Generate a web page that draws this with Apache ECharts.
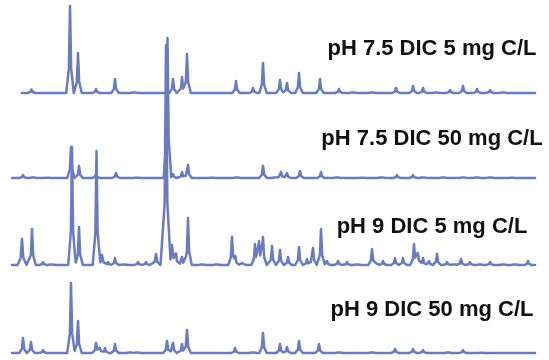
<!DOCTYPE html>
<html>
<head>
<meta charset="utf-8">
<title>XRD patterns</title>
<script src="https://cdn.jsdelivr.net/npm/echarts@6.0.0/dist/echarts.min.js"></script>
<style>
  html, body { margin: 0; padding: 0; background: #fff; }
  #chart { width: 549px; height: 360px; }
</style>
</head>
<body>
<div id="chart"></div>
<script>
// Sample names, top to bottom
const sampleLabels = [
  'pH 7.5 DIC 5 mg C/L',
  'pH 7.5 DIC 50 mg C/L',
  'pH 9 DIC 5 mg C/L',
  'pH 9 DIC 50 mg C/L'
];

// Scan range of each pattern (degrees 2θ)
const scanStart = [6.0, 5.0, 5.0, 5.0];
const scanEnd = [57.3, 57.3, 57.3, 57.3];

// Peak lists: [2θ, intensity (a.u.), optional half base width]
const peaksPH75DIC5 = [
  [6.95, 3.5], [10.8, 87], [11.6, 40], [13.4, 4], [15.3, 14], [17.2, 2],
  [21.1, 14], [22.0, 16], [22.5, 39], [27.4, 12], [29.1, 5], [30.1, 30],
  [31.8, 13], [32.5, 10], [33.7, 20], [35.8, 14], [37.7, 4], [39.1, 2],
  [41.0, 2], [43.4, 5], [45.1, 7], [46.1, 5], [47.4, 2], [48.8, 3],
  [50.1, 7], [51.5, 4], [52.8, 3], [54.1, 2]
];
const peaksPH75DIC50 = [
  [6.1, 3], [7.1, 1.5], [8.5, 1], [10.9, 31], [11.7, 12], [13.4, 4],
  [15.4, 5], [17.5, 1], [20.55, 140], [21.1, 4], [22.0, 6], [22.6, 13],
  [25.0, 1], [27.5, 2], [30.1, 12], [31.3, 2], [31.9, 6], [32.5, 5],
  [33.8, 7], [35.9, 6], [37.5, 2], [40.0, 1], [42.0, 1.5], [43.5, 3],
  [45.1, 3], [46.1, 2], [48.1, 2], [50.1, 2], [51.5, 2], [52.8, 1.5], [55.0, 1]
];
const peaksPH9DIC5 = [
  [6.0, 26, 0.45], [7.0, 36], [8.1, 3], [9.0, 1.5], [11.0, 118], [11.7, 38],
  [13.45, 114], [14.0, 10, 0.5], [14.6, 3], [15.3, 7], [16.2, 2], [17.6, 3],
  [18.4, 3], [19.4, 11, 0.45], [20.4, 220, 0.45], [21.0, 20, 0.5], [21.4, 10],
  [22.0, 8], [22.6, 47], [24.0, 2], [25.5, 2], [27.0, 28], [27.35, 8],
  [28.0, 2], [29.3, 21], [29.7, 24], [30.1, 28], [31.0, 19], [31.8, 15],
  [32.6, 8], [33.7, 18], [34.5, 6], [35.1, 17], [35.9, 36], [36.5, 4],
  [37.6, 4], [38.5, 3], [39.5, 2], [41.0, 16], [41.4, 4], [42.1, 4],
  [43.3, 7], [44.1, 7], [45.2, 21], [45.6, 14], [46.1, 7], [46.7, 4],
  [47.5, 11], [48.5, 3], [49.2, 2], [49.9, 6], [50.8, 3], [51.8, 2],
  [52.8, 3], [54.1, 2], [55.3, 2], [56.6, 4]
];
const peaksPH9DIC50 = [
  [6.1, 15], [6.9, 11], [8.1, 3], [10.9, 70], [11.6, 32], [13.4, 10],
  [13.8, 6], [14.3, 5], [15.3, 9], [16.8, 2], [17.5, 2], [20.5, 12],
  [21.1, 10], [22.0, 9], [22.5, 23], [27.3, 5], [29.1, 2], [30.1, 20],
  [31.8, 9], [32.5, 6], [33.7, 12], [35.7, 9], [37.7, 2], [41.0, 1.5],
  [43.3, 4], [45.1, 4], [46.1, 3], [48.6, 2], [50.1, 3], [52.0, 1]
];

const peakLists = [peaksPH75DIC5, peaksPH75DIC50, peaksPH9DIC5, peaksPH9DIC50];

// Vertical stacking offset of each pattern and default peak half width
const stackOffset = [267, 182, 95, 7];
const defaultHalfWidth = 0.38;
const lineColor = '#6b7bc0';

// Peak profile: sharp apex with broader foot (apex, shoulder, foot)
const shoulderPos = 0.3;   // fraction of half width
const shoulderLevel = 0.28; // fraction of peak height

function peakShape(d, w) {
  if (d >= w) return 0;
  const s = shoulderPos * w;
  if (d <= s) return 1 - (1 - shoulderLevel) * (d / s);
  return shoulderLevel * (1 - (d - s) / (w - s));
}

// Pattern evaluated at each peak's apex, shoulders and feet
function buildPattern(start, end, peaks, offset) {
  const xs = new Set([start, end]);
  peaks.forEach(([p, h, w = defaultHalfWidth]) => {
    const s = shoulderPos * w;
    [p - w, p - s, p, p + s, p + w].forEach(x => {
      if (x >= start && x <= end) xs.add(+x.toFixed(4));
    });
  });
  const sorted = Array.from(xs).sort((a, b) => a - b);
  return sorted.map(x => {
    let y = 0;
    peaks.forEach(([p, h, w = defaultHalfWidth]) => {
      y += h * peakShape(Math.abs(x - p), w);
    });
    return [x, offset + y];
  });
}

const chart = echarts.init(document.getElementById('chart'), null, { renderer: 'canvas' });

const series = peakLists.map((peaks, i) => ({
  name: sampleLabels[i],
  type: 'line',
  data: buildPattern(scanStart[i], scanEnd[i], peaks, stackOffset[i]),
  showSymbol: false,
  silent: true,
  lineStyle: { color: lineColor, width: 2.5, join: 'round', cap: 'round' }
}));

// Sample labels above each pattern
const labelTops = [38, 128, 216, 299];
const graphics = sampleLabels.map((t, i) => ({
  type: 'text',
  x: 432,
  y: labelTops[i],
  silent: true,
  style: {
    text: t,
    fill: '#111',
    font: 'bold 22px "Liberation Sans", Arial, sans-serif',
    textAlign: 'center',
    textVerticalAlign: 'top'
  }
}));

chart.setOption({
  animation: false,
  grid: { left: 12, right: 14, top: 0, bottom: 0 },
  xAxis: { type: 'value', min: 5, max: 57.3, show: false },
  yAxis: { type: 'value', min: 0, max: 360, show: false },
  series: series,
  graphic: graphics
});
</script>
</body>
</html>
